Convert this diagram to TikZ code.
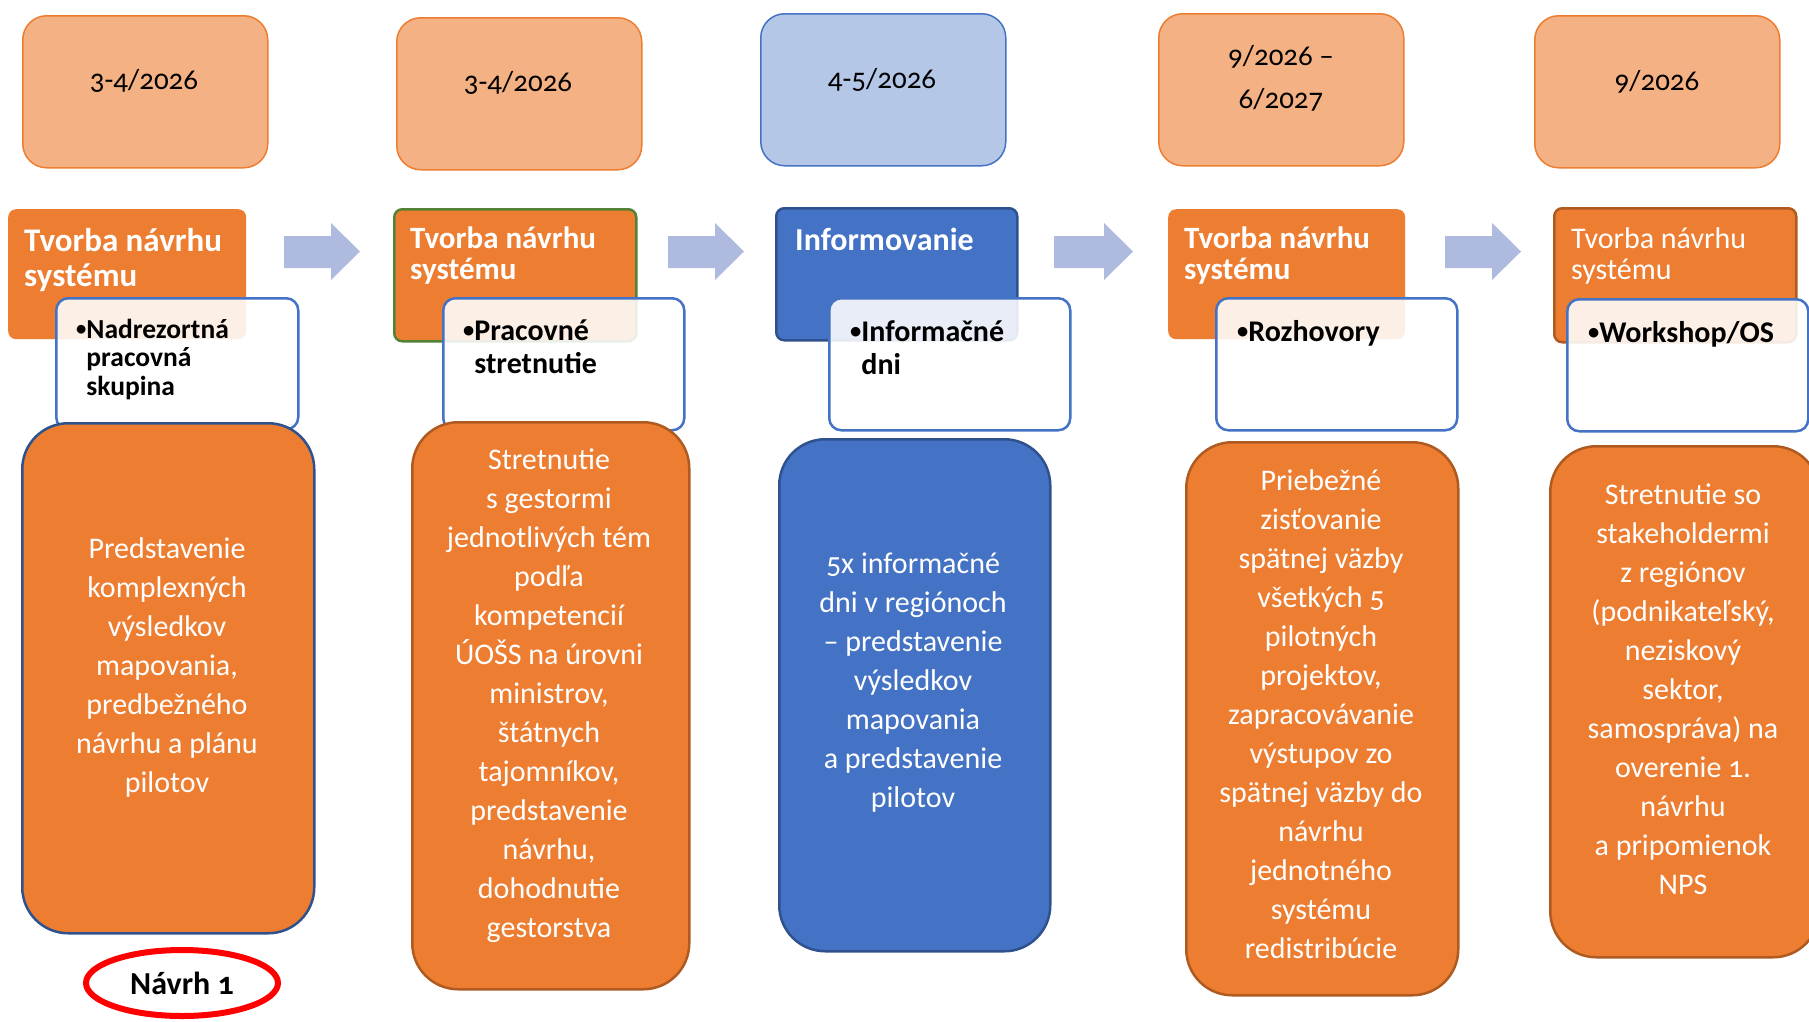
\documentclass[tikz,border=0pt]{standalone}
\usepackage{fontspec}
\setmainfont{Carlito}[Numbers=OldStyle]
\usepackage{graphicx}
\usepackage{tikz}
\usetikzlibrary{shapes.geometric}

\definecolor{accorange}{HTML}{ED7D31}
\definecolor{datepeach}{HTML}{F4B183}
\definecolor{dateblue}{HTML}{B4C7E7}
\definecolor{accblue}{HTML}{4472C4}
\definecolor{darkblue}{HTML}{2F528F}
\definecolor{darkorange}{HTML}{AE5A21}
\definecolor{leafgreen}{HTML}{548235}
\definecolor{arrowblue}{HTML}{AEBBDE}

\newcommand{\sizedate}{\fontsize{29}{43}\selectfont}
\newcommand{\sizehead}{\fontsize{31}{31}\selectfont}
\newcommand{\sizeitem}{\fontsize{30}{33}\selectfont}
\newcommand{\sizebody}{\fontsize{30}{39}\selectfont}
\newcommand{\itembullet}{\raisebox{0.1em}{\scalebox{0.75}{•}}}

\begin{document}
\begin{tikzpicture}[x=1pt,y=-1pt,
	datebox/.style={draw=accorange,line width=1.5pt,fill=datepeach,rounded corners=24pt,anchor=north west,minimum width=245pt,minimum height=152pt,inner sep=0pt},
	datetext/.style={font=\sizedate,align=center,anchor=base,inner sep=0pt},
	headbox/.style={fill=accorange,rounded corners=8pt,anchor=north west,minimum width=240pt,minimum height=132pt,inner sep=0pt},
	headtext/.style={text=white,font=\sizehead\bfseries,align=left,anchor=base west,inner sep=0pt},
	itembox/.style={draw=accblue,line width=2.5pt,fill=white,fill opacity=0.88,rounded corners=12pt,anchor=north west,minimum width=241pt,minimum height=132pt,inner sep=0pt},
	itemtext/.style={font=\sizeitem\bfseries,align=left,anchor=base west,inner sep=0pt},
	bodybox/.style={fill=accorange,draw=darkorange,line width=2.5pt,rounded corners=46pt,anchor=north west,inner sep=0pt},
	bodytext/.style={text=white,font=\sizebody,align=center,inner sep=0pt}]
		\useasboundingbox (0,0) rectangle (1809,1021);
		\node[datebox] (d1) at (22,15) {};
		\node[datebox] (d2) at (396,17) {};
		\node[datebox,fill=dateblue,draw=accblue] (d3) at (760,13) {};
		\node[datebox] (d4) at (1158,13) {};
		\node[datebox] (d5) at (1534,15) {};
		\node[datetext] (t1) at (144,89) {3-4/2026};
		\node[datetext] (t2) at (518,91) {3-4/2026};
		\node[datetext] (t3) at (882,88) {4-5/2026};
		\node[datetext] (t4) at (1281,108) {9/2026 –\\6/2027};
		\node[datetext] (t5) at (1657,90) {9/2026};
		\foreach \ax/\al in {284/47,668/47,1054/50,1445/47}
			\fill[arrowblue] (\ax,236) -- ++(\al,0) -- ++(0,-13) -- ++(29,28.5) -- ++(-29,28.5) -- ++(0,-12) -- ++(-\al,0) -- cycle;
		\node[headbox,minimum width=238pt,minimum height=130pt] (h1) at (8,209) {};
		\node[headbox,draw=leafgreen,line width=2.5pt,minimum width=242pt] (h2) at (393,208) {};
		\node[headbox,fill=accblue,draw=darkblue,line width=2.5pt,minimum width=241pt] (h3) at (775,207) {};
		\node[headbox,minimum width=237pt,minimum height=130pt] (h4) at (1168,209) {};
		\node[headbox,draw=darkorange,line width=2.5pt,minimum width=242pt,minimum height=134pt] (h5) at (1553,207) {};
		\node[headtext,font=\fontsize{33}{35}\selectfont\bfseries] (h1t) at (24,286) {Tvorba návrhu\\systému};
		\node[headtext] (h2t) at (410,279) {Tvorba návrhu\\systému};
		\node[headtext,font=\fontsize{32}{31}\selectfont\bfseries] (h3t) at (795,250) {Informovanie};
		\node[headtext] (h4t) at (1184,279) {Tvorba návrhu\\systému};
		\node[headtext,font=\fontsize{30}{31}\selectfont] (h5t) at (1571,279) {Tvorba návrhu\\systému};
		\node[itembox,minimum width=242pt,minimum height=131pt] (w1) at (55,297) {};
		\node[itembox] (w2) at (442,297) {};
		\node[itembox] (w3) at (828,297) {};
		\node[itembox] (w4) at (1215,297) {};
		\node[itembox] (w5) at (1566,298) {};
		\node[itemtext,font=\fontsize{27.5}{28.5}\selectfont\bfseries] (i1) at (76,395) {\itembullet Nadrezortná\\\hphantom{\itembullet}pracovná\\\hphantom{\itembullet}skupina};
		\node[itemtext] (i2) at (463,373) {\itembullet Pracovné\\\hphantom{\itembullet}stretnutie};
		\node[itemtext] (i3) at (850,374) {\itembullet Informačné\\\hphantom{\itembullet}dni};
		\node[itemtext] (i4) at (1237,341) {\itembullet Rozhovory};
		\node[itemtext] (i5) at (1588,342) {\itembullet Workshop/OS};
		\node[bodybox,draw=darkblue,minimum width=292pt,minimum height=510pt] (b1) at (21,422) {};
		\node[bodybox,minimum width=277pt,minimum height=567pt] (b2) at (411,421) {};
		\node[bodybox,fill=accblue,draw=darkblue,minimum width=271pt,minimum height=512pt] (b3) at (778,438) {};
		\node[bodybox,minimum width=272pt,minimum height=553pt] (b4) at (1185,441) {};
		\node[bodybox,minimum width=269pt,minimum height=511pt] (b5) at (1549,445) {};
		\node[bodytext] (b1t) at (167,667) {Predstavenie\\komplexných\\výsledkov\\mapovania,\\predbežného\\návrhu a plánu\\pilotov};
		\node[bodytext] (b2t) at (549,696) {Stretnutie\\s gestormi\\jednotlivých tém\\podľa\\kompetencií\\ÚOŠS na úrovni\\ministrov,\\štátnych\\tajomníkov,\\predstavenie\\návrhu,\\dohodnutie\\gestorstva};
		\node[bodytext] (b3t) at (913,683) {5x informačné\\dni v regiónoch\\– predstavenie\\výsledkov\\mapovania\\a predstavenie\\pilotov};
		\node[bodytext] (b4t) at (1321,714) {Priebežné\\zisťovanie\\spätnej väzby\\všetkých 5\\pilotných\\projektov,\\zapracovávanie\\výstupov zo\\spätnej väzby do\\návrhu\\jednotného\\systému\\redistribúcie};
		\node[bodytext] (b5t) at (1683,689) {Stretnutie so\\stakeholdermi\\z regiónov\\(podnikateľský,\\neziskový\\sektor,\\samospráva) na\\overenie 1.\\návrhu\\a pripomienok\\NPS};
		\node[ellipse,draw=red,line width=6pt,fill=white,minimum width=192pt,minimum height=66pt,inner sep=0pt,font=\fontsize{32}{32}\selectfont\bfseries] (n1) at (182,983) {Návrh 1};
	\end{tikzpicture}
\end{document}
